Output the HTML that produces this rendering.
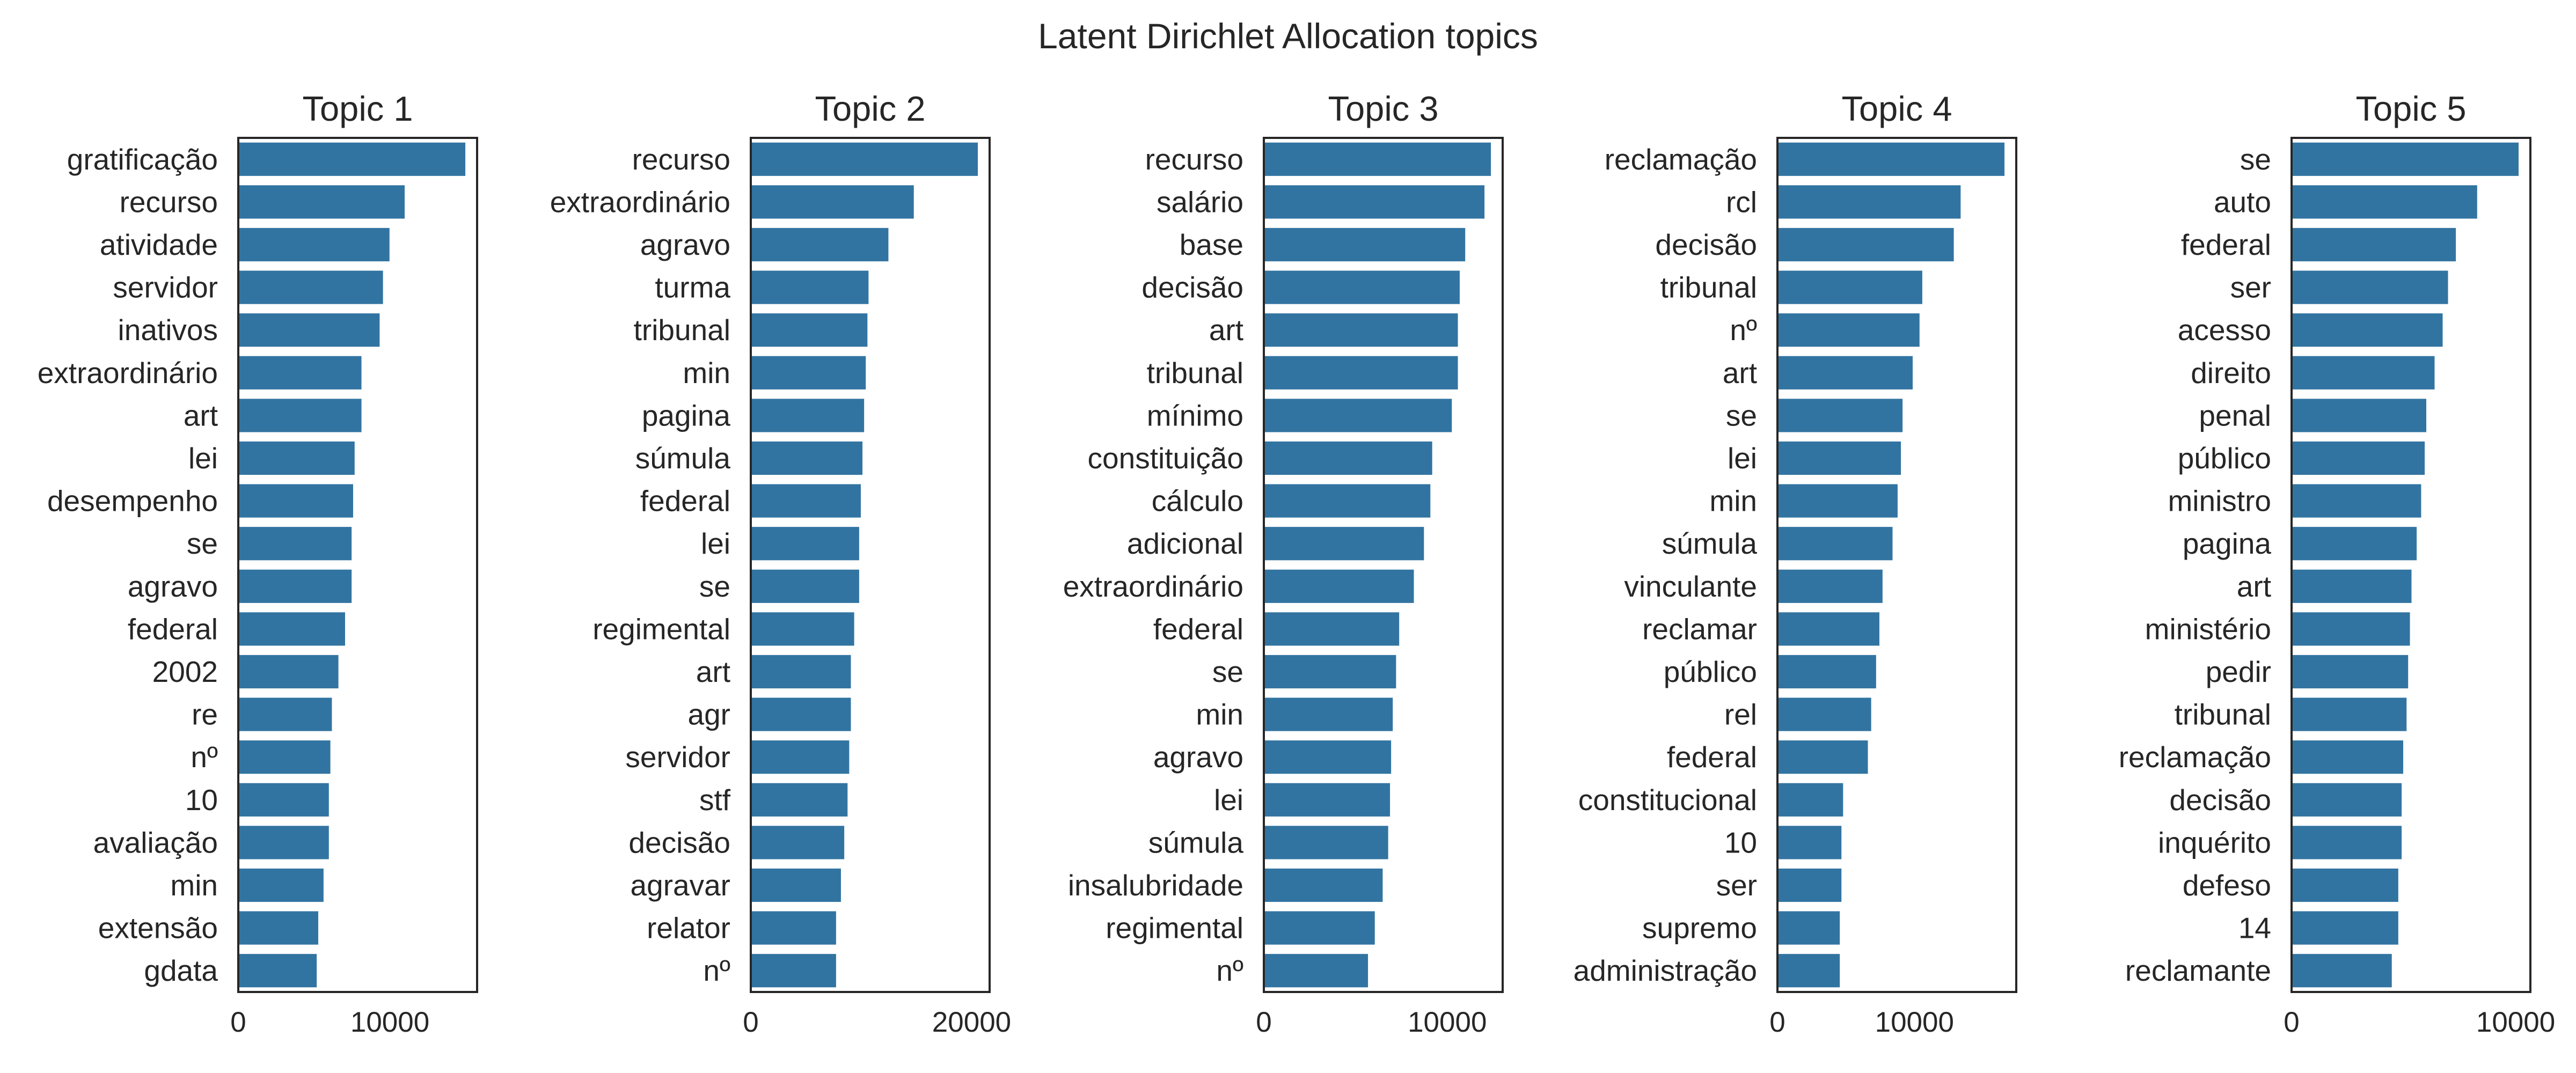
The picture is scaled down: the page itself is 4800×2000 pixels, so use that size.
<!DOCTYPE html>
<html><head><meta charset="utf-8">
<style>
html,body{margin:0;padding:0;background:#fff;}
svg{display:block;}
text{font-family:"Liberation Sans",sans-serif;fill:#262626;}
</style></head>
<body>
<svg id="chart" xmlns="http://www.w3.org/2000/svg" width="4800" height="2000" viewBox="0 0 4800 2000">
<rect x="0" y="0" width="4800" height="2000" fill="#fff"/>
<text x="2400" y="90" font-size="66" text-anchor="middle">Latent Dirichlet Allocation topics</text>
</svg>
<script>
const topicTitles = ["Topic 1","Topic 2","Topic 3","Topic 4","Topic 5"];
const words1 = ["gratificação","recurso","atividade","servidor","inativos","extraordinário","art","lei","desempenho","se","agravo","federal","2002","re","nº","10","avaliação","min","extensão","gdata"];
const values1 = [15000,11000,10000,9570,9350,8150,8150,7700,7600,7500,7500,7070,6630,6200,6100,6000,6000,5650,5300,5200];
const words2 = ["recurso","extraordinário","agravo","turma","tribunal","min","pagina","súmula","federal","lei","se","regimental","art","agr","servidor","stf","decisão","agravar","relator","nº"];
const values2 = [20600,14800,12500,10700,10600,10450,10300,10150,10000,9850,9850,9400,9100,9100,8950,8800,8500,8200,7760,7760];
const words3 = ["recurso","salário","base","decisão","art","tribunal","mínimo","constituição","cálculo","adicional","extraordinário","federal","se","min","agravo","lei","súmula","insalubridade","regimental","nº"];
const values3 = [12400,12050,11000,10700,10600,10600,10270,9200,9100,8750,8200,7400,7230,7050,6960,6900,6800,6500,6070,5700];
const words4 = ["reclamação","rcl","decisão","tribunal","nº","art","se","lei","min","súmula","vinculante","reclamar","público","rel","federal","constitucional","10","ser","supremo","administração"];
const values4 = [16600,13400,12900,10600,10400,9900,9160,9040,8800,8430,7700,7470,7230,6870,6630,4820,4700,4700,4580,4580];
const words5 = ["se","auto","federal","ser","acesso","direito","penal","público","ministro","pagina","art","ministério","pedir","tribunal","reclamação","decisão","inquérito","defeso","14","reclamante"];
const values5 = [10150,8300,7350,7000,6760,6400,6030,5960,5800,5600,5370,5300,5220,5150,5000,4930,4930,4780,4780,4490];
const ticks1 = [0,10000];
const ticks2 = [0,20000];
const ticks3 = [0,10000];
const ticks4 = [0,10000];
const ticks5 = [0,10000];

const NS = "http://www.w3.org/2000/svg";
const svg = document.getElementById('chart');
const panelsWords = [words1,words2,words3,words4,words5];
const panelsVals = [values1,values2,values3,values4,values5];
const panelsTicks = [ticks1,ticks2,ticks3,ticks4,ticks5];
const lefts = [444,1399,2355,3312,4270];
const W = 445, TOP = 257, BOT = 1849;

function mk(tag, attrs){const e=document.createElementNS(NS,tag);for(const k in attrs)e.setAttribute(k,attrs[k]);return e;}

for(let p=0;p<5;p++){
  const words=panelsWords[p], vals=panelsVals[p], ticks=panelsTicks[p];
  const L=lefts[p];
  const xmax=Math.max(...vals)*1.05;
  const xs=v=>L+v/xmax*W;
  const band=(BOT-TOP)/words.length;
  const g=mk('g',{});
  
  
  svg.appendChild(g);
  const t=mk('text',{x:L+W/2,y:225,'font-size':65,'text-anchor':'middle'});
  
  
  t.textContent=topicTitles[p];g.appendChild(t);
  for(let i=0;i<words.length;i++){
    const yc=TOP+band*(i+0.5);
    const r=mk('rect',{x:L,y:yc-band*0.4,width:xs(vals[i])-L,height:band*0.8,fill:'#3274a1',stroke:'#fff','stroke-width':1.5});
    
    
    g.appendChild(r);
    const lb=mk('text',{x:L-38,y:yc+19,'font-size':55,'text-anchor':'end'});
    
    
    lb.textContent=words[i];g.appendChild(lb);
  }
  for(const tv of ticks){
    const tl=mk('text',{x:xs(tv),y:1923,'font-size':53,'text-anchor':'middle'});
    
    
    tl.textContent=String(tv);g.appendChild(tl);
  }
  const fr=mk('rect',{x:L,y:TOP,width:W,height:BOT-TOP,fill:'none',stroke:'#262626','stroke-width':4});
  
  
  g.appendChild(fr);
}
</script>
</body></html>
